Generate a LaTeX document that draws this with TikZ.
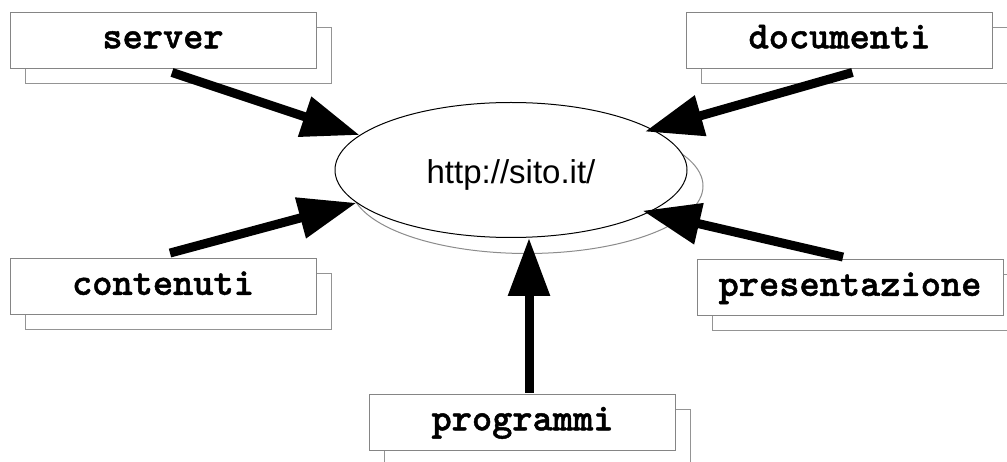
\documentclass[tikz,border=0pt]{standalone}
\usepackage{fontspec}
\setsansfont{Liberation Sans}
\newfontfamily\boxfont{lmmonolt10-bold.otf}[RawFeature={embolden=1.2}]
\usetikzlibrary{arrows.meta,shapes.geometric,shadows}

\tikzset{
  backcopy/.style={general shadow={shadow xshift=15pt, shadow yshift=-15pt,
      fill=white, draw=black!42, line width=0.9pt}},
  topic/.style={draw=black!48, line width=0.9pt, fill=white,
      minimum width=306pt, minimum height=56pt, inner sep=0pt,
      text height=16.6pt, text depth=0pt,
      font=\boxfont\fontsize{38.5}{44}\selectfont, backcopy},
  site/.style={ellipse, draw=black, line width=1pt, fill=white,
      minimum width=352pt, minimum height=135pt, inner sep=0pt,
      general shadow={shadow xshift=16pt, shadow yshift=-16pt,
      fill=white, draw=black!45, line width=1pt}},
  feed/.style={line width=9pt, -{Triangle[length=58pt,width=40pt]}}
}

\begin{document}
\begin{tikzpicture}[x=1pt,y=-1pt]
  \useasboundingbox (0,0) rectangle (1007,462);
  \fill[white] (0,0) rectangle (1007,462);

  % central site
  \node[site] (site) at (511,170) {};
  \node[font=\sffamily\fontsize{33}{38}\selectfont,
        text height=23pt, text depth=0pt, inner sep=0pt] (url) at (511,172) {http://sito.it/};

  % surrounding topics
  \node[topic] (server) at (163,40)    {server};
  \node[topic] (docs)   at (839.5,40)  {documenti};
  \node[topic] (cont)   at (163,286.5) {contenuti};
  \node[topic] (pres)   at (850,287.5) {presentazione};
  \node[topic] (prog)   at (522.5,422) {programmi};

  % arrows into the site
  \draw[feed] ([xshift=9pt,yshift=-4pt]server.south) -- (site.167);
  \draw[feed, shorten >=-8pt] ([xshift=13pt,yshift=-4pt]docs.south) -- (site.16);
  \draw[feed] ([xshift=7pt,yshift=5pt]cont.north) -- (site.192);
  \draw[feed, shorten >=-7pt] ([xshift=-7pt,yshift=2pt]pres.north) -- (site.343);
  \coordinate (progtop) at ([xshift=6.5pt,yshift=1pt]prog.north);
  \draw[feed] (progtop) -- (progtop |- site.south);
\end{tikzpicture}
\end{document}
